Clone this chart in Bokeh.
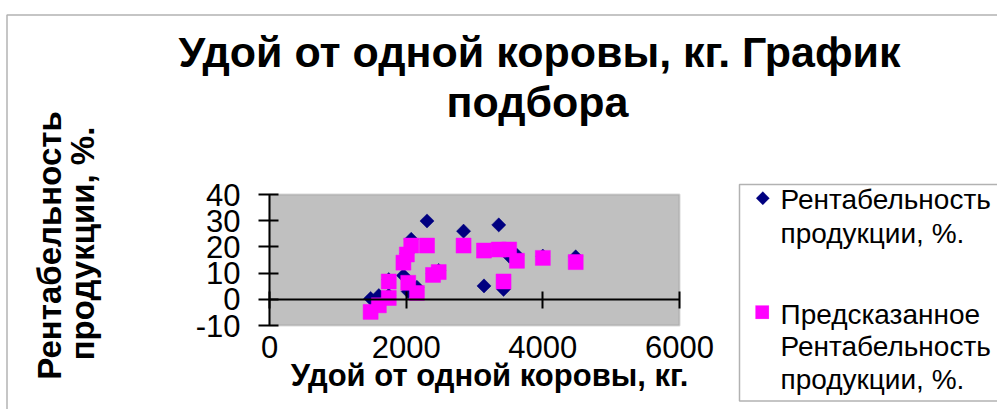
import math
from bokeh.plotting import figure
from bokeh.models import (Range1d, LinearAxis, FixedTicker, Label, BoxAnnotation,
                          PolyAnnotation, ColumnDataSource)
from bokeh.embed import file_html
from bokeh.resources import INLINE

# ---- data ----
udoy = [1480, 1600, 1745, 1745, 1960, 2010, 2074, 2030, 2157, 2305,
        2393, 2476, 2840, 3139, 3355, 3507, 3425, 3621, 4000, 4481]
rent_fact = [0.3, 1.4, 1.5, 7.5, 9.1, 17.5, 22.9, 3.0, 4.6, 29.9,
             9.8, 11.0, 26.0, 5.1, 28.4, 16.5, 3.8, 16.8, 16.5, 16.2]
rent_pred = [-4.8, -2.3, 0.5, 6.8, 14.0, 17.1, 20.5, 6.3, 2.4, 20.5,
             9.3, 10.4, 20.5, 18.6, 19.0, 19.0, 6.8, 14.7, 15.8, 14.2]
x_ticks = [0, 2000, 4000, 6000]
y_ticks = [-10, 0, 10, 20, 30, 40]
title_lines = ["Удой от одной коровы, кг. График", "подбора"]
x_title = "Удой от одной коровы, кг."
y_title_lines = ["Рентабельность", "продукции, %."]
legend_fact = ["Рентабельность", "продукции, %."]
legend_pred = ["Предсказанное", "Рентабельность", "продукции, %."]

FONT = "Liberation Sans"
W, H = 997, 409

# plot-area geometry in canvas px
FL, FW, FT, FH = 269, 410, 194, 131
X0, X1, Y0, Y1 = 0, 6000, -10, 40


def dx(sx):
    return X0 + (sx - FL) / FW * (X1 - X0)


def dy(sy):
    return Y1 - (sy - FT) / FH * (Y1 - Y0)


p = figure(width=W, height=H, min_border=0,
           x_range=Range1d(dx(0), dx(W)), y_range=Range1d(dy(H), dy(0)),
           output_backend="svg", toolbar_location=None,
           x_axis_location=None, y_axis_location=None)
p.background_fill_color = "white"
p.border_fill_color = "white"
p.outline_line_color = None
p.grid.visible = False

# plot area
p.add_layout(BoxAnnotation(left=X0, right=X1, bottom=Y0, top=Y1, level="underlay",
                           fill_color="#C0C0C0", fill_alpha=1,
                           line_color="#808080", line_width=2))

# y axis at x = 0
ya = LinearAxis(fixed_location=0, bounds=(Y0, Y1), ticker=FixedTicker(ticks=y_ticks))
ya.major_label_overrides = {float(t): str(t) for t in y_ticks}
ya.major_tick_in = 9
ya.major_tick_out = 11
ya.major_tick_line_width = 2
ya.axis_line_width = 2
ya.minor_tick_line_color = None
ya.major_label_standoff = 18
ya.major_label_text_font = FONT
ya.major_label_text_font_size = "31px"
ya.major_label_text_color = "black"
p.add_layout(ya, "left")

# x axis line at y = 0, ticks crossing
xa_line = LinearAxis(fixed_location=0, bounds=(X0, X1), ticker=FixedTicker(ticks=x_ticks))
xa_line.major_tick_in = 8
xa_line.major_tick_out = 9
xa_line.major_tick_line_width = 2
xa_line.axis_line_width = 2
xa_line.minor_tick_line_color = None
xa_line.major_label_overrides = {float(t): "" for t in x_ticks}
p.add_layout(xa_line, "below")

# x tick labels under the plot area
xa_lab = LinearAxis(fixed_location=Y0, bounds=(X0, X1), ticker=FixedTicker(ticks=x_ticks))
xa_lab.axis_line_color = None
xa_lab.major_tick_line_color = None
xa_lab.minor_tick_line_color = None
xa_lab.major_tick_out = 0
xa_lab.major_tick_in = 0
xa_lab.major_label_standoff = 10
xa_lab.major_label_text_font = FONT
xa_lab.major_label_text_font_size = "31px"
xa_lab.major_label_text_color = "black"
p.add_layout(xa_lab, "below")

src = ColumnDataSource(dict(x=udoy, fact=rent_fact, pred=rent_pred))
r_fact = p.scatter("x", "fact", source=src, marker="square", size=10, angle=math.pi / 4,
                   fill_color="#000080", line_color="#000080", line_width=0.5)
r_pred = p.scatter("x", "pred", source=src, marker="square", size=15,
                   fill_color="#FF00FF", line_color="#FF00FF", line_width=0.5)

# outer chart border and legend box
p.add_layout(BoxAnnotation(left=dx(6.5), right=dx(1300), top=dy(14.5), bottom=dy(700),
                           fill_alpha=0, line_color="black", line_width=1.5))
p.add_layout(BoxAnnotation(left=dx(739), right=dx(1300), top=dy(184), bottom=dy(400.5),
                           fill_alpha=0, line_color="black", line_width=1.5))


def text(txt, sx, sy, size, bold=False, align="left", angle=0.0):
    p.add_layout(Label(x=dx(sx), y=dy(sy), text=txt, text_align=align,
                       text_baseline="alphabetic", angle=angle,
                       text_font=FONT, text_font_size=f"{size}px",
                       text_font_style="bold" if bold else "normal",
                       text_color="black"))


# title
text(title_lines[0], 539, 51, 43, bold=True, align="center")
text(title_lines[1], 537, 101, 43, bold=True, align="center")

# x axis title
text(x_title, 489, 375, 31, bold=True, align="center")

# y axis title (rotated)
text(y_title_lines[0], 49, 245, 33, bold=True, align="center", angle=math.pi / 2)
text(y_title_lines[1], 82, 243, 33, bold=True, align="center", angle=math.pi / 2)

# legend keys
cx, cy, r = 762.3, 197.7, 6.7
p.add_layout(PolyAnnotation(xs=[dx(cx - r), dx(cx), dx(cx + r), dx(cx)],
                            ys=[dy(cy), dy(cy - r), dy(cy), dy(cy + r)],
                            fill_color="#000080", fill_alpha=1, line_color="#000080",
                            line_width=0.5))
p.add_layout(BoxAnnotation(left=dx(755), right=dx(768.4), top=dy(305), bottom=dy(318.4),
                           fill_color="#FF00FF", fill_alpha=1, line_color="#FF00FF",
                           line_width=0.5))

# legend text
for txt, by in zip(legend_fact, [199, 233]):
    text(txt, 780, by, 28)
for txt, by in zip(legend_pred, [314, 346, 379]):
    text(txt, 780, by, 28)

open("out.html", "w").write(file_html(p, INLINE))
